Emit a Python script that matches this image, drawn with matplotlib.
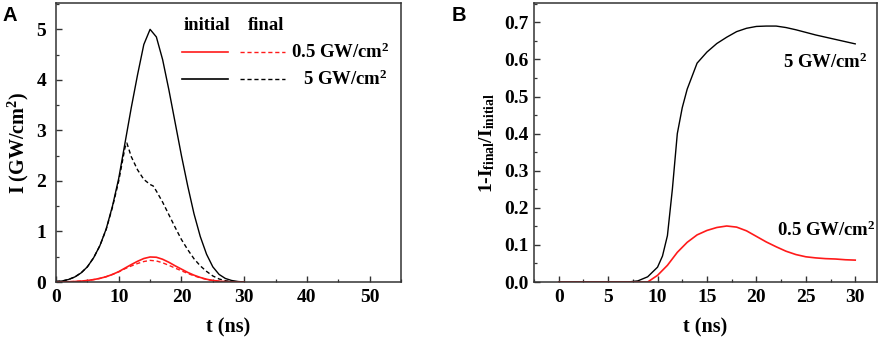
import matplotlib as mpl
mpl.use('Agg')
import matplotlib.pyplot as plt
from matplotlib.lines import Line2D
from matplotlib.ticker import MultipleLocator, FormatStrFormatter

# Global setting
plt.rcParams['font.family'] = 'Liberation Serif'
plt.rcParams['font.weight'] = 'bold'
plt.rcParams['mathtext.fontset'] = 'custom'
plt.rcParams['mathtext.rm'] = 'Liberation Serif:bold'
plt.rcParams['mathtext.it'] = 'Liberation Serif:italic:bold'
plt.rcParams['mathtext.bf'] = 'Liberation Serif:bold'

# ---- data, panel A: pulse intensity (GW/cm^2) vs t (ns) ----
t_a = [0, 1, 2, 3, 4, 5, 6, 7, 8, 9, 10, 11, 12, 13, 14, 15, 16, 17, 18, 19, 20,
       21, 22, 23, 24, 25, 26, 27, 28, 29, 30]
hi_initial = [0.01, 0.02, 0.05, 0.10, 0.18, 0.30, 0.48, 0.72, 1.05, 1.50, 2.05, 2.75, 3.45,
              4.10, 4.70, 5.00, 4.85, 4.40, 3.80, 3.15, 2.50, 1.90, 1.35, 0.90, 0.55, 0.30,
              0.15, 0.07, 0.03, 0.01, 0.0]
t_hi_final = [0, 1, 2, 3, 4, 5, 6, 7, 8, 9, 10, 11, 11.3, 12, 13, 14, 15, 15.5, 16, 17, 18,
              19, 20, 21, 22, 23, 24, 25, 26, 27, 28, 29, 30]
hi_final = [0.01, 0.02, 0.05, 0.10, 0.18, 0.30, 0.48, 0.72, 1.04, 1.48, 2.00, 2.66, 2.75,
            2.48, 2.22, 2.03, 1.93, 1.90, 1.80, 1.58, 1.33, 1.08, 0.84, 0.64, 0.46, 0.32,
            0.21, 0.12, 0.06, 0.025, 0.01, 0.0, 0.0]
lo_initial = [0.0, 0.002, 0.005, 0.01, 0.018, 0.03, 0.048, 0.072, 0.105, 0.15, 0.205, 0.275,
              0.345, 0.41, 0.465, 0.495, 0.49, 0.45, 0.39, 0.32, 0.255, 0.19, 0.135, 0.09,
              0.055, 0.03, 0.015, 0.007, 0.003, 0.001, 0.0]
lo_final = [0.0, 0.002, 0.005, 0.01, 0.018, 0.03, 0.048, 0.072, 0.105, 0.15, 0.201, 0.263,
            0.317, 0.366, 0.405, 0.428, 0.417, 0.38, 0.33, 0.275, 0.222, 0.17, 0.122, 0.083,
            0.051, 0.028, 0.014, 0.007, 0.003, 0.001, 0.0]

# ---- data, panel B: 1 - I_final/I_initial vs t (ns) ----
t_b_hi = [0, 5, 7, 8, 9, 10, 10.5, 11, 11.5, 12, 12.5, 13, 14, 15, 16, 17, 18, 19, 20, 21,
          22, 23, 24, 25, 26, 27, 28, 29, 30]
loss_hi = [0.0, 0.0, 0.0, 0.003, 0.014, 0.04, 0.07, 0.125, 0.25, 0.40, 0.47, 0.52, 0.59,
           0.62, 0.643, 0.66, 0.675, 0.684, 0.689, 0.69, 0.69, 0.686, 0.68, 0.673, 0.666,
           0.66, 0.654, 0.648, 0.642]
t_b_lo = [0, 5, 9, 10, 11, 12, 13, 14, 15, 16, 17, 18, 19, 20, 21, 22, 23, 24, 25, 26, 27,
          28, 29, 30]
loss_lo = [0.0, 0.0, 0.0, 0.018, 0.045, 0.08, 0.107, 0.127, 0.139, 0.147, 0.151, 0.148,
           0.138, 0.123, 0.108, 0.095, 0.083, 0.074, 0.068, 0.065, 0.063, 0.062, 0.06, 0.059]

RED = '#ff1a1a'
DASH = (0, (3, 2))
FS_TICK = 14
FS_LAB = 14.5
FS_TXT = 13.5

fig = plt.figure(figsize=(8.86, 3.41), dpi=100)
axA = fig.add_axes([0.0632, 0.173, 0.3894, 0.818])
axB = fig.add_axes([0.6027, 0.173, 0.3871, 0.818])

for ax in (axA, axB):
    for s in ax.spines.values():
        s.set_color('#333333')
        s.set_linewidth(1.1)
    ax.tick_params(direction='in', which='major', length=4.5, width=1.0,
                   labelsize=FS_TICK, color='#333333', pad=5)
    ax.tick_params(direction='in', which='minor', length=2.5, width=0.9, color='#333333')
axA.tick_params(axis='y', pad=7)
axB.tick_params(axis='y', pad=4)

## Panel A
axA.plot(t_a, hi_initial, color='black', lw=1.0)
axA.plot(t_hi_final, hi_final, color='black', lw=1.0, linestyle=DASH)
axA.plot(t_a, lo_initial, color=RED, lw=1.2)
axA.plot(t_a, lo_final, color=RED, lw=1.0, linestyle=DASH)
axA.set_xlim(0, 55)
axA.set_ylim(0, 5.52)
axA.xaxis.set_major_locator(MultipleLocator(10))
axA.xaxis.set_minor_locator(MultipleLocator(5))
axA.yaxis.set_major_locator(MultipleLocator(1))
axA.yaxis.set_minor_locator(MultipleLocator(0.5))
axA.set_xlabel('t (ns)', fontsize=FS_LAB, fontweight='bold', labelpad=8)
axA.set_ylabel('I (GW/cm$^2$)', fontsize=FS_LAB, fontweight='bold', labelpad=4)

# hand-made two-column legend
axA.text(0.438, 0.918, 'initial', transform=axA.transAxes, ha='center', va='center',
         fontsize=FS_TXT, fontweight='bold')
axA.text(0.609, 0.918, 'final', transform=axA.transAxes, ha='center', va='center',
         fontsize=FS_TXT, fontweight='bold')
for yy, col, lab, xr in [(0.824, RED, '0.5 GW/cm$^2$', 0.968), (0.728, 'black', '5 GW/cm$^2$', 0.962)]:
    axA.add_line(Line2D([0.365, 0.499], [yy, yy], transform=axA.transAxes, color=col, lw=1.2))
    axA.add_line(Line2D([0.533, 0.664], [yy, yy], transform=axA.transAxes, color=col, lw=1.0,
                        linestyle=DASH))
    axA.text(xr, yy, lab, transform=axA.transAxes, ha='right', va='center',
             fontsize=FS_TXT, fontweight='bold')

fig.text(0.003, 0.955, 'A', family='Liberation Sans', fontsize=14.5, fontweight='bold',
         ha='left', va='center')

## Panel B
axB.plot(t_b_hi, loss_hi, color='black', lw=1.0)
axB.plot(t_b_lo, loss_lo, color=RED, lw=1.2)
axB.set_xlim(-2.5, 32.2)
axB.set_ylim(0, 0.752)
axB.xaxis.set_major_locator(MultipleLocator(5))
axB.xaxis.set_minor_locator(MultipleLocator(2.5))
axB.yaxis.set_major_locator(MultipleLocator(0.1))
axB.yaxis.set_minor_locator(MultipleLocator(0.05))
axB.yaxis.set_major_formatter(FormatStrFormatter('%.1f'))
axB.set_xlabel('t (ns)', fontsize=FS_LAB, fontweight='bold', labelpad=8)
axB.set_ylabel(r'1-I$_{\mathrm{final}}$/I$_{\mathrm{initial}}$', fontsize=FS_LAB - 0.5,
               fontweight='bold', labelpad=5)
axB.text(0.974, 0.789, '5 GW/cm$^2$', transform=axB.transAxes, ha='right', va='center',
         fontsize=FS_TXT, fontweight='bold')
axB.text(0.997, 0.186, '0.5 GW/cm$^2$', transform=axB.transAxes, ha='right', va='center',
         fontsize=FS_TXT, fontweight='bold')

fig.text(0.510, 0.955, 'B', family='Liberation Sans', fontsize=14.5, fontweight='bold',
         ha='left', va='center')

fig.savefig('out.png', dpi=100)
